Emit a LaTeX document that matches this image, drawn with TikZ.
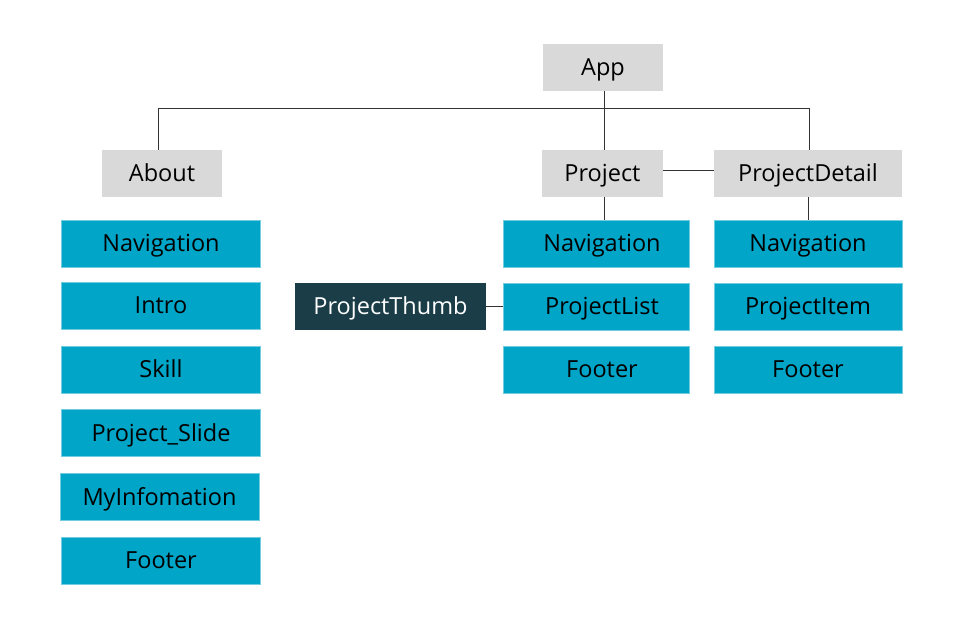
\documentclass[tikz,border=0pt]{standalone}
\usepackage{fontspec}
\setmainfont{Open Sans}
\definecolor{boxgray}{HTML}{D9D9D9}
\definecolor{boxblue}{HTML}{00A5C8}
\definecolor{boxdark}{HTML}{1A3D47}
\definecolor{linec}{HTML}{333333}
\begin{document}
\begin{tikzpicture}[x=1pt,y=-1pt,
  base/.style={rectangle, inner sep=0pt, font=\fontsize{23.5}{28}\selectfont, text height=16.8pt, text depth=0pt, minimum height=47pt},
  graybox/.style={base, fill=boxgray, minimum width=120pt},
  comp/.style={base, fill=boxblue, draw=boxblue!55!white, line width=0.6pt, minimum width=199pt},
  pcomp/.style={comp, minimum width=186pt, execute at begin node={\hspace*{12pt}}},
  darkbox/.style={base, fill=boxdark, text=white, minimum width=191pt},
  conn/.style={draw=linec, line width=1pt}]
\useasboundingbox (0,0) rectangle (957,638);
% top level
\node[graybox] (app) at (603,67.5) {App};
\node[graybox] (about) at (162,173.5) {About};
\node[graybox, minimum width=121pt] (project) at (602.5,173.5) {Project};
\node[graybox, minimum width=188pt] (pdetail) at (808,173.5) {ProjectDetail};
% About column
\node[comp] (anav) at (161,243.5) {Navigation};
\node[comp] (aintro) at (161,305.5) {Intro};
\node[comp] (askill) at (161,369.5) {Skill};
\node[comp] (aslide) at (161,433) {Project\_Slide};
\node[comp] (ainfo) at (159.5,497) {MyInfomation};
\node[comp] (afoot) at (161,560.5) {Footer};
% Project column
\node[pcomp] (pnav) at (596,243.5) {Navigation};
\node[pcomp] (plist) at (596,306.5) {ProjectList};
\node[pcomp] (pfoot) at (596,369.5) {Footer};
\node[darkbox] (thumb) at (390.5,306.5) {ProjectThumb};
% ProjectDetail column
\node[comp, minimum width=188pt] (dnav) at (808,243.5) {Navigation};
\node[comp, minimum width=188pt] (ditem) at (808,306.5) {ProjectItem};
\node[comp, minimum width=188pt] (dfoot) at (808,369.5) {Footer};
% connectors
\coordinate (hl) at (158,108);
\coordinate (hr) at (809,108);
\draw[conn] (about.north -| hl) -- (hl) -- (hr) -- (hr |- pdetail.north);
\draw[conn] (app.south) ++(1pt,0) -- (project.north -| 604,0);
\draw[conn] ([yshift=3.5pt]project.east) -- ([yshift=3.5pt]pdetail.west);
\draw[conn] (project.south -| 604,0) -- (pnav.north -| 604,0);
\draw[conn] (pdetail.south) -- (dnav.north);
\draw[conn] (thumb.east) -- (plist.west);
\end{tikzpicture}
\end{document}
